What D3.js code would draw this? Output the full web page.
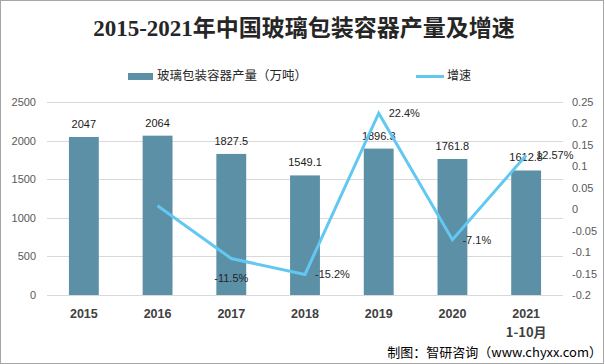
<!DOCTYPE html>
<html>
<head>
<meta charset="utf-8">
<script src="https://cdn.jsdelivr.net/npm/d3@7"></script>
<style>
  html, body { margin: 0; padding: 0; background: #fff; }
  svg { display: block; }
</style>
</head>
<body>
<svg id="chart" width="605" height="364"></svg>
<script>
// ---- data ----
const categories = ["2015", "2016", "2017", "2018", "2019", "2020", "2021"];
const categorySub = ["", "", "", "", "", "", "1-10月"];
const output = [2047, 2064, 1827.5, 1549.1, 1896.3, 1761.8, 1612.8];
const outputLabels = ["2047", "2064", "1827.5", "1549.1", "1896.3", "1761.8", "1612.8"];
const growth = [null, 0.0083, -0.115, -0.152, 0.224, -0.071, 0.1257];
const growthLabels = [null, null, "-11.5%", "-15.2%", "22.4%", "-7.1%", "12.57%"];
const leftTicks = [0, 500, 1000, 1500, 2000, 2500];
const leftTickLabels = ["0", "500", "1000", "1500", "2000", "2500"];
const rightTicks = [-0.2, -0.15, -0.1, -0.05, 0, 0.05, 0.1, 0.15, 0.2, 0.25];
const rightTickLabels = ["-0.2", "-0.15", "-0.1", "-0.05", "0", "0.05", "0.1", "0.15", "0.2", "0.25"];
const titleText = "2015-2021年中国玻璃包装容器产量及增速";
const seriesNames = ["玻璃包装容器产量（万吨）", "增速"];
const sourceText = "制图：智研咨询（www.chyxx.com）";

// label placement for growth labels
const growthLabelPlace = [null, null, "below", "right", "right", "right", "right"];

// ---- layout ----
const W = 605, H = 364;
const plot = { left: 47, right: 563, top: 102, bottom: 295 };
const barColor = "#5b90a6";
const lineColor = "#62c8f2";
const sans = "'Liberation Sans', Arial, 'Noto Sans CJK SC', sans-serif";
const cjk = "'Noto Sans CJK SC', 'Liberation Sans', sans-serif";

const svg = d3.select("#chart");

// frame
svg.append("rect")
  .attr("x", 0.5).attr("y", 0.5).attr("width", W - 2).attr("height", H - 1)
  .attr("fill", "#fff").attr("stroke", "#a6a6a6").attr("stroke-width", 1);

// scales
const x = d3.scaleBand().domain(categories).range([plot.left, plot.right]).paddingInner(0.595).paddingOuter(0.2975);
const yL = d3.scaleLinear().domain([0, 2500]).range([plot.bottom, plot.top]);
const yR = d3.scaleLinear().domain([-0.2, 0.25]).range([plot.bottom, plot.top]);

// gridlines
svg.append("g").selectAll("line").data(leftTicks).join("line")
  .attr("x1", plot.left).attr("x2", plot.right)
  .attr("y1", d => Math.round(yL(d)) + 0.5).attr("y2", d => Math.round(yL(d)) + 0.5)
  .attr("stroke", "#d9d9d9").attr("stroke-width", 1);

// left axis
const axL = svg.append("g").attr("transform", `translate(${plot.left},0)`)
  .call(d3.axisLeft(yL).tickValues(leftTicks).tickFormat((d, i) => leftTickLabels[i]).tickSize(0).tickPadding(11));
axL.select(".domain").remove();
axL.selectAll("text").attr("font-family", sans).attr("font-size", 11).attr("fill", "#595959");

// right axis
const axR = svg.append("g").attr("transform", `translate(${plot.right},0)`)
  .call(d3.axisRight(yR).tickValues(rightTicks).tickFormat((d, i) => rightTickLabels[i]).tickSize(0).tickPadding(9));
axR.select(".domain").remove();
axR.selectAll("text").attr("font-family", sans).attr("font-size", 11).attr("fill", "#595959");

// bottom axis labels
const axB = svg.append("g").attr("transform", `translate(0,${plot.bottom})`)
  .call(d3.axisBottom(x).tickSize(0).tickPadding(14));
axB.select(".domain").remove();
axB.selectAll("text").attr("font-family", sans).attr("font-size", 12.5)
  .attr("font-weight", "bold").attr("fill", "#404040");
axB.selectAll(".tick").each(function(d, i) {
  if (categorySub[i]) {
    d3.select(this).append("text")
      .attr("y", 42).attr("text-anchor", "middle")
      .attr("font-family", cjk).attr("font-size", 13).attr("font-weight", "bold")
      .attr("fill", "#404040").text(categorySub[i]);
  }
});

// bars
svg.append("g").selectAll("rect").data(output).join("rect")
  .attr("x", (d, i) => x(categories[i]))
  .attr("width", x.bandwidth())
  .attr("y", d => yL(d))
  .attr("height", d => yL(0) - yL(d))
  .attr("fill", barColor);

// bar labels
svg.append("g").selectAll("text").data(output).join("text")
  .attr("x", (d, i) => x(categories[i]) + x.bandwidth() / 2)
  .attr("y", d => yL(d) - 9)
  .attr("text-anchor", "middle")
  .attr("font-family", sans).attr("font-size", 11).attr("fill", "#1a1a1a")
  .text((d, i) => outputLabels[i]);

// line
const pts = growth.map((g, i) => ({ g, i })).filter(p => p.g !== null);
const line = d3.line()
  .x(p => x(categories[p.i]) + x.bandwidth() / 2)
  .y(p => yR(p.g));
svg.append("path").datum(pts)
  .attr("d", line).attr("fill", "none")
  .attr("stroke", lineColor).attr("stroke-width", 3).attr("stroke-linejoin", "miter");

// line labels
svg.append("g").selectAll("text").data(pts.filter(p => growthLabels[p.i])).join("text")
  .attr("x", p => {
    const cx = x(categories[p.i]) + x.bandwidth() / 2;
    return growthLabelPlace[p.i] === "below" ? cx : cx + 10;
  })
  .attr("y", p => growthLabelPlace[p.i] === "below" ? yR(p.g) + 20 : yR(p.g))
  .attr("dy", "0.35em")
  .attr("text-anchor", p => growthLabelPlace[p.i] === "below" ? "middle" : "start")
  .attr("font-family", sans).attr("font-size", 11).attr("fill", "#262626")
  .text(p => growthLabels[p.i]);

// title
svg.append("text")
  .attr("x", 304).attr("y", 36)
  .attr("text-anchor", "middle")
  .attr("font-family", "'Liberation Serif', 'Noto Sans CJK SC', serif")
  .attr("font-size", 23).attr("font-weight", "bold").attr("fill", "#262626")
  .text(titleText);

// legend
const lg = svg.append("g");
lg.append("rect").attr("x", 128).attr("y", 73).attr("width", 25).attr("height", 7).attr("fill", barColor);
lg.append("text").attr("x", 157).attr("y", 76).attr("dy", "0.35em")
  .attr("font-family", cjk).attr("font-size", 12.5).attr("fill", "#262626")
  .text(seriesNames[0]);
lg.append("line").attr("x1", 416).attr("x2", 444).attr("y1", 76.5).attr("y2", 76.5)
  .attr("stroke", lineColor).attr("stroke-width", 3);
lg.append("text").attr("x", 447).attr("y", 76).attr("dy", "0.35em")
  .attr("font-family", cjk).attr("font-size", 12).attr("fill", "#262626")
  .text(seriesNames[1]);

// source
svg.append("text")
  .attr("x", 602).attr("y", 352).attr("dy", "0.35em")
  .attr("text-anchor", "end")
  .attr("font-family", cjk).attr("font-size", 13).attr("fill", "#000")
  .text(sourceText);
</script>
</body>
</html>
